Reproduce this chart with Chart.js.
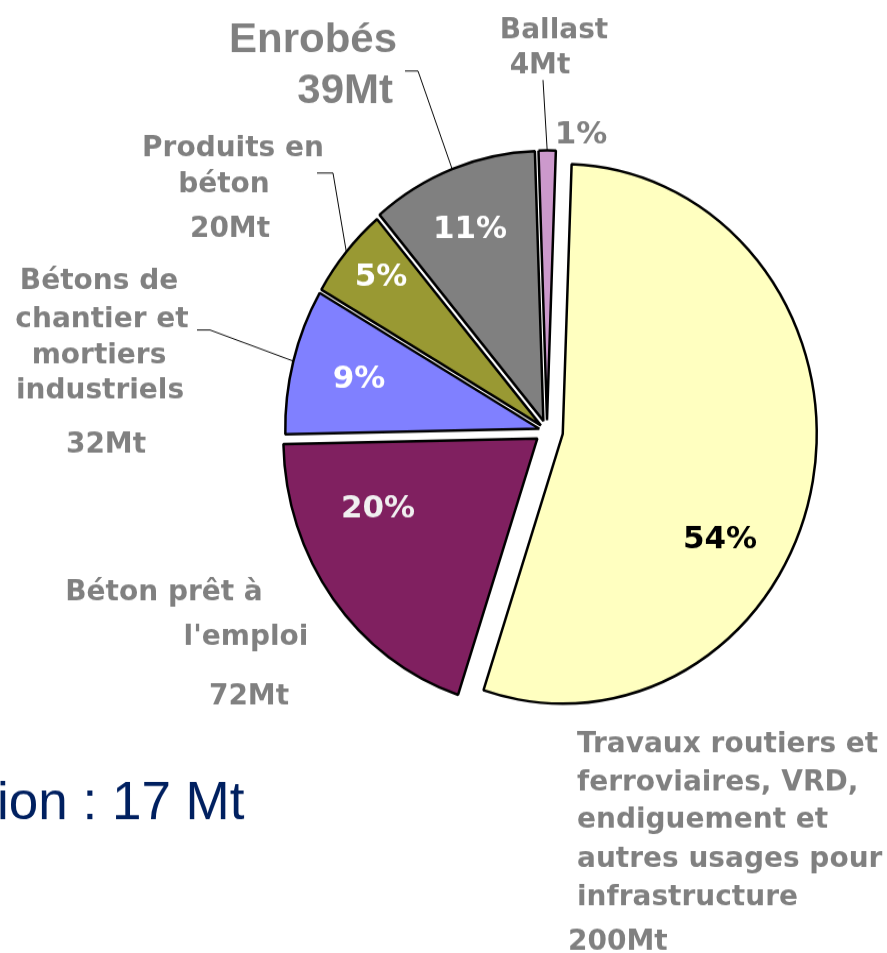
<!DOCTYPE html>
<html>
<head>
<meta charset="utf-8">
<script src="https://cdn.jsdelivr.net/npm/chart.js@4.4.1/dist/chart.umd.min.js"></script>
<style>
  html, body { margin: 0; padding: 0; background: #fff; overflow: hidden; }
</style>
</head>
<body>
<canvas id="myChart" width="887" height="897" style="display:block;width:887px;height:953px"></canvas>
<script>
// data
const categories = [
  'Travaux routiers et ferroviaires, VRD, endiguement et autres usages pour infrastructure',
  "Béton prêt à l'emploi",
  'Bétons de chantier et mortiers industriels',
  'Produits en béton',
  'Enrobés',
  'Ballast'
];
const tonnages = [200, 72, 32, 20, 39, 4];   // Mt
const shares = [54, 20, 9, 5, 11, 1];        // %
const exportText = 'ion : 17 Mt';

// label text, split the way the picture wraps it
const labelLines = [
  ['Travaux routiers et', 'ferroviaires, VRD,', 'endiguement et', 'autres usages pour', 'infrastructure'],
  ['Béton prêt à', "l'emploi"],
  ['Bétons de', 'chantier et', 'mortiers', 'industriels'],
  ['Produits en', 'béton'],
  ['Enrobés'],
  ['Ballast']
];

const colors = ['#FFFFC0', '#802060', '#8080FF', '#999933', '#808080', '#CC99CC'];
const pctColors = ['#000000', '#f0f0f0', '#ffffff', '#ffffff', '#ffffff', '#808080'];
const explode = [16, 12, 8, 8, 10, 10];

// the original pie is a little taller than wide: canvas is stretched in y
const S = 953 / 897;
const GREY = '#808080';
const VERD = 'bold 28px "DejaVu Sans"';

// text layout in screen pixels: [x, baseline]
const labelPos = [
  {lines: [[577, 752], [577, 790], [577, 828], [577, 867], [577, 905]], mt: [568, 950], align: 'left'},
  {lines: [[164, 600], [246, 645]], mt: [249, 704], align: 'center'},
  {lines: [[99, 289], [102, 327], [99, 363], [100, 398]], mt: [106, 453], align: 'center'},
  {lines: [[233, 156], [224, 192]], mt: [230, 237], align: 'center'},
  {lines: [[397, 52]], mt: [393, 103], align: 'right', font: 'bold 42px "Liberation Sans"'},
  {lines: [[554, 38]], mt: [540, 73], align: 'center'}
];
const pctPos = [[720, 548], [378, 517], [359, 388], [381, 286], [470, 238], [581, 143]];
const leaders = {2: [[197, 330], [210, 330]], 3: [[317, 173], [333, 173]], 4: [[405, 71], [418, 71]], 5: [[543, 80]]};

const pieLabels = {
  id: 'pieLabels',
  beforeDatasetsDraw(chart) {
    const ca = chart.chartArea;
    const cx = (ca.left + ca.right) / 2;
    const cy = (ca.top + ca.bottom) / 2;
    chart.getDatasetMeta(0).data.forEach((arc, i) => {
      const mid = (arc.startAngle + arc.endAngle) / 2;
      arc.x = cx + Math.cos(mid) * explode[i];
      arc.y = cy + Math.sin(mid) * explode[i];
    });
  },
  afterDatasetsDraw(chart) {
    const ctx = chart.ctx;
    const arcs = chart.getDatasetMeta(0).data;
    ctx.save();
    ctx.scale(1, 1 / S); // draw in screen pixels, unstretched text

    // leader lines
    ctx.strokeStyle = '#000';
    ctx.lineWidth = 1;
    Object.keys(leaders).forEach(k => {
      const arc = arcs[k];
      const mid = (arc.startAngle + arc.endAngle) / 2;
      const ex = arc.x + Math.cos(mid) * arc.outerRadius;
      const ey = (arc.y + Math.sin(mid) * arc.outerRadius) * S;
      ctx.beginPath();
      leaders[k].forEach((p, j) => j ? ctx.lineTo(p[0], p[1]) : ctx.moveTo(p[0], p[1]));
      ctx.lineTo(ex, ey);
      ctx.stroke();
    });

    // category labels + tonnage
    ctx.fillStyle = GREY;
    labelPos.forEach((lp, i) => {
      ctx.font = lp.font || VERD;
      ctx.textAlign = lp.align;
      labelLines[i].forEach((t, j) => ctx.fillText(t, lp.lines[j][0], lp.lines[j][1]));
      ctx.fillText(tonnages[i] + 'Mt', lp.mt[0], lp.mt[1]);
    });

    // percentages
    ctx.font = 'bold 31px "DejaVu Sans"';
    ctx.textAlign = 'center';
    shares.forEach((v, i) => {
      ctx.fillStyle = pctColors[i];
      ctx.fillText(v + '%', pctPos[i][0], pctPos[i][1]);
    });

    // cut-off export note
    ctx.font = '53px "Liberation Sans"';
    ctx.textAlign = 'left';
    ctx.fillStyle = '#002060';
    ctx.fillText(exportText, -3, 819);
    ctx.restore();
  }
};

const ctx = document.getElementById('myChart');
const myChart = new Chart(ctx, {
  type: 'pie',
  plugins: [pieLabels],
  data: {
    labels: categories,
    datasets: [{
      data: tonnages,
      backgroundColor: colors,
      borderColor: '#000',
      borderWidth: 2.5
    }]
  },
  options: {
    responsive: false,
    animation: false,
    rotation: 2,
    radius: 254,
    layout: {padding: {left: 207, right: 0, top: 0, bottom: 86}},
    plugins: {
      legend: {display: false},
      tooltip: {enabled: false},
      title: {display: false}
    }
  }
});
</script>
</body>
</html>
